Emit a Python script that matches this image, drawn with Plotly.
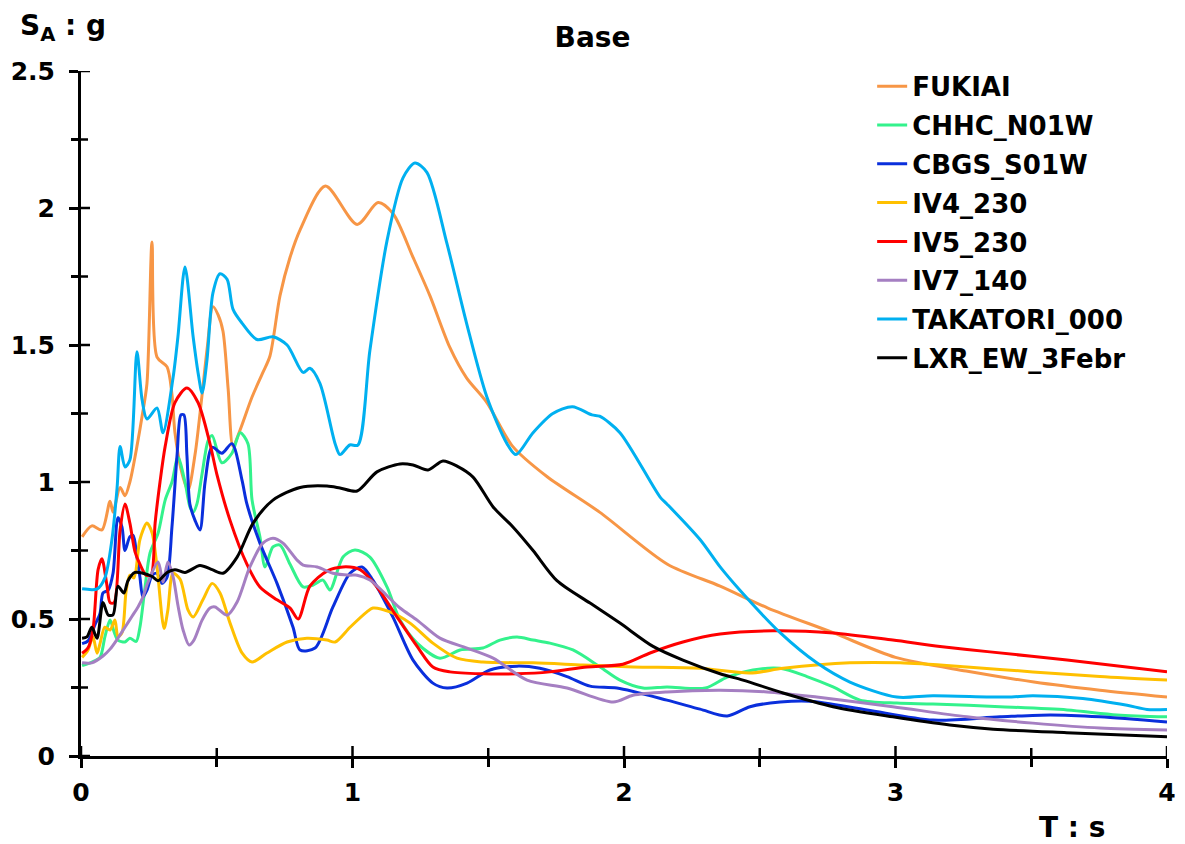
import plotly.graph_objects as go

# Response spectra, period T (s) vs spectral acceleration SA (g)
names = ["FUKIAI", "CHHC_N01W", "CBGS_S01W", "IV4_230", "IV5_230", "IV7_140",
         "TAKATORI_000", "LXR_EW_3Febr"]
colors = ["#F79646", "#33F28C", "#0A2FDC", "#FFC000", "#FF0000", "#A57FC2",
          "#00B0F0", "#000000"]

fukiai_t = [0.004, 0.04, 0.077, 0.107, 0.118, 0.144, 0.162, 0.18, 0.206, 0.225, 0.243,
            0.2615, 0.28, 0.317, 0.335, 0.346, 0.37, 0.394, 0.42, 0.445, 0.465, 0.486,
            0.505, 0.523, 0.542, 0.56, 0.586, 0.63, 0.67, 0.696, 0.733, 0.77, 0.807,
            0.9, 1.017, 1.094, 1.149, 1.223, 1.285, 1.359, 1.42, 1.495, 1.59, 1.716,
            1.91, 2.16, 2.354, 2.53, 2.77, 3.0, 3.26, 3.51, 3.753, 4.0]
fukiai_sa = [0.80, 0.84, 0.825, 0.93, 0.89, 0.98, 0.95, 1.0, 1.13, 1.24, 1.36,
             1.876, 1.456, 1.42, 1.32, 1.18, 1.04, 0.97, 1.10, 1.31, 1.49, 1.64,
             1.61, 1.55, 1.34, 1.13, 1.19, 1.31, 1.40, 1.46, 1.68, 1.82, 1.92,
             2.08, 1.94, 2.02, 1.98, 1.82, 1.68, 1.49, 1.38, 1.29, 1.13, 1.02,
             0.89, 0.70, 0.62, 0.54, 0.45, 0.36, 0.31, 0.27, 0.24, 0.215]

chhc_t = [0.004, 0.04, 0.07, 0.088, 0.107, 0.122, 0.136, 0.162, 0.18, 0.203, 0.217,
          0.236, 0.254, 0.284, 0.31, 0.335, 0.357, 0.383, 0.401, 0.413, 0.427, 0.446,
          0.468, 0.483, 0.519, 0.556, 0.586, 0.615, 0.63, 0.659, 0.678, 0.707, 0.733,
          0.77, 0.818, 0.855, 0.891, 0.917, 0.965, 1.009, 1.064, 1.127, 1.175, 1.238,
          1.322, 1.396, 1.48, 1.543, 1.606, 1.665, 1.727, 1.812, 1.912, 1.985, 2.07,
          2.158, 2.3, 2.38, 2.475, 2.575, 2.674, 2.77, 2.869, 3.005, 3.138, 3.385,
          3.632, 3.816, 4.0]
chhc_sa = [0.33, 0.343, 0.36, 0.435, 0.496, 0.453, 0.423, 0.416, 0.43, 0.418, 0.47,
           0.617, 0.74, 0.814, 0.934, 1.0, 1.09, 1.0, 0.91, 0.89, 0.92, 1.03,
           1.15, 1.17, 1.07, 1.105, 1.18, 1.14, 0.934, 0.80, 0.69, 0.763, 0.77,
           0.70, 0.617, 0.624, 0.642, 0.606, 0.726, 0.752, 0.726, 0.617, 0.496, 0.412,
           0.357, 0.387, 0.394, 0.423, 0.434, 0.423, 0.412, 0.387, 0.325, 0.277, 0.248,
           0.252, 0.248, 0.288, 0.314, 0.32, 0.29, 0.252, 0.204, 0.193, 0.19, 0.18,
           0.168, 0.15, 0.143]

cbgs_t = [0.004, 0.026, 0.052, 0.07, 0.081, 0.1, 0.118, 0.136, 0.151, 0.162, 0.18,
          0.192, 0.206, 0.217, 0.228, 0.243, 0.262, 0.28, 0.298, 0.317, 0.335, 0.354,
          0.368, 0.379, 0.39, 0.401, 0.42, 0.438, 0.457, 0.483, 0.519, 0.556, 0.593,
          0.611, 0.659, 0.722, 0.781, 0.807, 0.862, 0.928, 0.991, 1.035, 1.075, 1.149,
          1.223, 1.296, 1.348, 1.422, 1.506, 1.606, 1.69, 1.79, 1.875, 1.974, 2.158,
          2.28, 2.38, 2.464, 2.575, 2.685, 2.895, 3.138, 3.385, 3.57, 3.753, 4.0]
cbgs_sa = [0.41, 0.42, 0.48, 0.52, 0.595, 0.605, 0.667, 0.87, 0.835, 0.75, 0.80,
           0.805, 0.727, 0.653, 0.58, 0.605, 0.66, 0.667, 0.63, 0.653, 0.835, 1.10,
           1.245, 1.245, 1.10, 0.92, 0.86, 0.825, 1.0, 1.127, 1.105, 1.14, 1.007,
           0.92, 0.777, 0.63, 0.47, 0.387, 0.394, 0.544, 0.667, 0.69, 0.642, 0.507,
           0.35, 0.266, 0.248, 0.266, 0.314, 0.328, 0.32, 0.29, 0.255, 0.248, 0.204,
           0.171, 0.146, 0.18, 0.197, 0.2, 0.168, 0.131, 0.143, 0.15, 0.143, 0.124]

iv4_t = [0.004, 0.026, 0.044, 0.059, 0.07, 0.088, 0.107, 0.125, 0.136, 0.151, 0.166,
         0.18, 0.195, 0.217, 0.243, 0.262, 0.28, 0.306, 0.32, 0.339, 0.365, 0.394,
         0.413, 0.449, 0.483, 0.512, 0.549, 0.593, 0.63, 0.685, 0.759, 0.832, 0.906,
         0.936, 0.991, 1.053, 1.075, 1.138, 1.212, 1.296, 1.385, 1.48, 1.665, 1.849,
         2.033, 2.28, 2.464, 2.586, 2.832, 3.017, 3.263, 3.506, 3.753, 4.0]
iv4_sa = [0.36, 0.387, 0.435, 0.375, 0.41, 0.47, 0.46, 0.496, 0.435, 0.45, 0.60,
          0.66, 0.65, 0.79, 0.85, 0.814, 0.69, 0.465, 0.533, 0.667, 0.645, 0.533,
          0.507, 0.57, 0.63, 0.595, 0.485, 0.376, 0.343, 0.376, 0.416, 0.43, 0.423,
          0.416, 0.47, 0.526, 0.54, 0.526, 0.485, 0.412, 0.357, 0.343, 0.34, 0.332,
          0.325, 0.32, 0.303, 0.32, 0.34, 0.34, 0.325, 0.307, 0.29, 0.277]

iv5_t = [0.004, 0.026, 0.044, 0.063, 0.077, 0.096, 0.107, 0.122, 0.144, 0.162, 0.18,
         0.199, 0.217, 0.24, 0.258, 0.273, 0.291, 0.31, 0.346, 0.39, 0.431, 0.475,
         0.5, 0.549, 0.611, 0.659, 0.722, 0.77, 0.8, 0.843, 0.906, 0.965, 1.028,
         1.09, 1.164, 1.238, 1.296, 1.359, 1.48, 1.606, 1.727, 1.864, 1.996, 2.096,
         2.217, 2.354, 2.549, 2.77, 2.99, 3.164, 3.348, 3.632, 4.0]
iv5_sa = [0.375, 0.395, 0.46, 0.68, 0.72, 0.62, 0.56, 0.56, 0.825, 0.92, 0.85,
          0.745, 0.70, 0.66, 0.66, 0.85, 1.0, 1.13, 1.29, 1.343, 1.29, 1.14,
          1.03, 0.86, 0.70, 0.617, 0.57, 0.54, 0.50, 0.62, 0.675, 0.69, 0.68,
          0.617, 0.507, 0.40, 0.325, 0.307, 0.30, 0.30, 0.307, 0.325, 0.335, 0.376,
          0.416, 0.445, 0.457, 0.449, 0.423, 0.40, 0.38, 0.35, 0.307]

iv7_t = [0.004, 0.04, 0.081, 0.107, 0.136, 0.162, 0.188, 0.21, 0.228, 0.247, 0.284,
         0.302, 0.32, 0.339, 0.357, 0.376, 0.398, 0.416, 0.446, 0.475, 0.494, 0.538,
         0.575, 0.622, 0.67, 0.707, 0.744, 0.796, 0.818, 0.87, 0.928, 0.99, 1.017,
         1.064, 1.175, 1.238, 1.322, 1.422, 1.518, 1.643, 1.79, 1.96, 2.033, 2.158,
         2.354, 2.527, 2.71, 2.99, 3.263, 3.506, 3.753, 4.0]
iv7_sa = [0.34, 0.34, 0.365, 0.39, 0.43, 0.47, 0.51, 0.544, 0.58, 0.635, 0.708,
          0.635, 0.708, 0.655, 0.55, 0.46, 0.405, 0.423, 0.496, 0.54, 0.544, 0.514,
          0.562, 0.69, 0.777, 0.795, 0.777, 0.715, 0.697, 0.69, 0.667, 0.66, 0.66,
          0.642, 0.54, 0.496, 0.43, 0.394, 0.357, 0.277, 0.248, 0.197, 0.222, 0.234,
          0.24, 0.234, 0.215, 0.18, 0.143, 0.12, 0.102, 0.095]

takatori_t = [0.004, 0.06, 0.088, 0.114, 0.133, 0.144, 0.162, 0.18, 0.206, 0.225, 0.243,
              0.28, 0.302, 0.339, 0.357, 0.383, 0.413, 0.431, 0.446, 0.464, 0.486, 0.512,
              0.538, 0.56, 0.593, 0.648, 0.707, 0.759, 0.818, 0.843, 0.88, 0.936, 0.954,
              0.99, 1.02, 1.064, 1.127, 1.186, 1.23, 1.274, 1.348, 1.42, 1.495, 1.569,
              1.602, 1.665, 1.738, 1.81, 1.882, 1.91, 1.985, 2.133, 2.158, 2.28, 2.354,
              2.427, 2.575, 2.71, 2.832, 3.005, 3.138, 3.41, 3.506, 3.69, 3.853, 3.926, 4.0]
takatori_sa = [0.61, 0.61, 0.65, 0.79, 0.98, 1.13, 1.055, 1.08, 1.475, 1.30, 1.23,
               1.27, 1.18, 1.38, 1.53, 1.785, 1.53, 1.40, 1.325, 1.445, 1.69, 1.76,
               1.74, 1.63, 1.58, 1.52, 1.53, 1.50, 1.40, 1.415, 1.36, 1.14, 1.10,
               1.135, 1.135, 1.48, 1.88, 2.11, 2.164, 2.13, 1.87, 1.58, 1.31, 1.14,
               1.10, 1.18, 1.25, 1.275, 1.245, 1.24, 1.18, 0.945, 0.92, 0.79, 0.69,
               0.605, 0.45, 0.34, 0.27, 0.215, 0.22, 0.215, 0.22, 0.21, 0.185, 0.17, 0.17]

lxr_t = [0.004, 0.022, 0.04, 0.059, 0.081, 0.1, 0.118, 0.136, 0.158, 0.173, 0.199,
         0.228, 0.262, 0.284, 0.317, 0.346, 0.383, 0.438, 0.483, 0.523, 0.575, 0.634,
         0.707, 0.807, 0.906, 0.954, 1.017, 1.09, 1.175, 1.223, 1.278, 1.333, 1.385,
         1.444, 1.518, 1.591, 1.665, 1.753, 1.875, 1.985, 2.107, 2.217, 2.354, 2.438,
         2.586, 2.77, 2.99, 3.2, 3.36, 3.63, 4.0]
lxr_sa = [0.43, 0.435, 0.47, 0.43, 0.56, 0.515, 0.515, 0.62, 0.595, 0.64, 0.67,
          0.667, 0.655, 0.64, 0.67, 0.68, 0.67, 0.695, 0.68, 0.667, 0.726, 0.85,
          0.934, 0.98, 0.985, 0.978, 0.967, 1.037, 1.066, 1.062, 1.044, 1.077, 1.058,
          1.018, 0.909, 0.836, 0.75, 0.64, 0.558, 0.485, 0.40, 0.35, 0.30, 0.277,
          0.23, 0.18, 0.143, 0.113, 0.098, 0.085, 0.07]

periods = [fukiai_t, chhc_t, cbgs_t, iv4_t, iv5_t, iv7_t, takatori_t, lxr_t]
accels = [fukiai_sa, chhc_sa, cbgs_sa, iv4_sa, iv5_sa, iv7_sa, takatori_sa, lxr_sa]

# tick positions (major ones carry labels)
x_major = [0, 1, 2, 3, 4]
x_minor = [0.5, 1.5, 2.5, 3.5]
y_major = [0, 0.5, 1.0, 1.5, 2.0, 2.5]
y_minor = [0.25, 0.75, 1.25, 1.75, 2.25]

FONT = "DejaVu Sans"
W, H = 1185, 844
M = dict(l=81, r=18, t=71, b=88)
X_RANGE = [0, 4]
Y_RANGE = [0, 2.5]

fig = go.Figure()
for i, (name, col, t, sa) in enumerate(zip(names, colors, periods, accels)):
    fig.add_trace(go.Scatter(
        x=t, y=sa, name=name, mode="lines",
        line=dict(color=col, width=3, shape="spline", smoothing=0.8),
        legendgroup=f"g{i}",
    ))

# inner halves of the tick marks, so that every tick crosses its axis line;
# pixel lengths converted to data units of each axis
px_x = (X_RANGE[1] - X_RANGE[0]) / (W - M["l"] - M["r"])
px_y = (Y_RANGE[1] - Y_RANGE[0]) / (H - M["t"] - M["b"])
tx, ty = [], []
for v, ln in [(v, 10) for v in x_major] + [(v, 8) for v in x_minor]:
    tx += [v, v, None]
    ty += [Y_RANGE[0], Y_RANGE[0] + ln * px_y, None]
for v, ln in [(v, 9) for v in y_major] + [(v, 7) for v in y_minor]:
    tx += [X_RANGE[0], X_RANGE[0] + ln * px_x, None]
    ty += [v, v, None]
fig.add_trace(go.Scatter(x=tx, y=ty, mode="lines", line=dict(color="black", width=2.5),
                         showlegend=False, hoverinfo="skip", cliponaxis=False))

tick_font = dict(family=FONT, size=25, color="black", weight="bold")

fig.update_layout(
    width=W, height=H,
    margin=M,
    paper_bgcolor="white", plot_bgcolor="white",
    title=dict(text="Base", x=0.5, xref="container", xanchor="center",
               y=1 - 37 / 844, yref="container", yanchor="middle",
               font=dict(family=FONT, size=28, color="black", weight="bold")),
    xaxis=dict(range=X_RANGE, showgrid=False, zeroline=False, automargin=False,
               tickvals=x_major, showline=True, linecolor="black", linewidth=3,
               ticks="outside", ticklen=9, tickwidth=2.5, tickcolor="black",
               minor=dict(tickvals=x_minor, ticks="outside", ticklen=8,
                          tickwidth=2.5, tickcolor="black"),
               tickfont=tick_font, ticklabelstandoff=3),
    yaxis=dict(range=Y_RANGE, showgrid=False, zeroline=False, automargin=False,
               tickvals=y_major, showline=True, linecolor="black", linewidth=3,
               ticks="outside", ticklen=9, tickwidth=2.5, tickcolor="black",
               minor=dict(tickvals=y_minor, ticks="outside", ticklen=7,
                          tickwidth=2.5, tickcolor="black"),
               tickfont=tick_font, ticklabelstandoff=9),
    legend=dict(x=0.7285, y=1.012, xanchor="left", yanchor="top",
                bgcolor="rgba(0,0,0,0)", borderwidth=0,
                traceorder="grouped", tracegroupgap=2,
                font=dict(family=FONT, size=26, color="black", weight="bold")),
    showlegend=True,
    annotations=[
        dict(text="S<sub>A</sub> : g", xref="paper", yref="paper",
             x=-0.058, y=1.064, xanchor="left", yanchor="middle", showarrow=False,
             font=dict(family=FONT, size=28, color="black", weight="bold")),
        dict(text="T : s", xref="paper", yref="paper",
             x=0.9125, y=-0.105, xanchor="center", yanchor="middle", showarrow=False,
             font=dict(family=FONT, size=28, color="black", weight="bold")),
    ],
)

fig.write_html("out.html")
